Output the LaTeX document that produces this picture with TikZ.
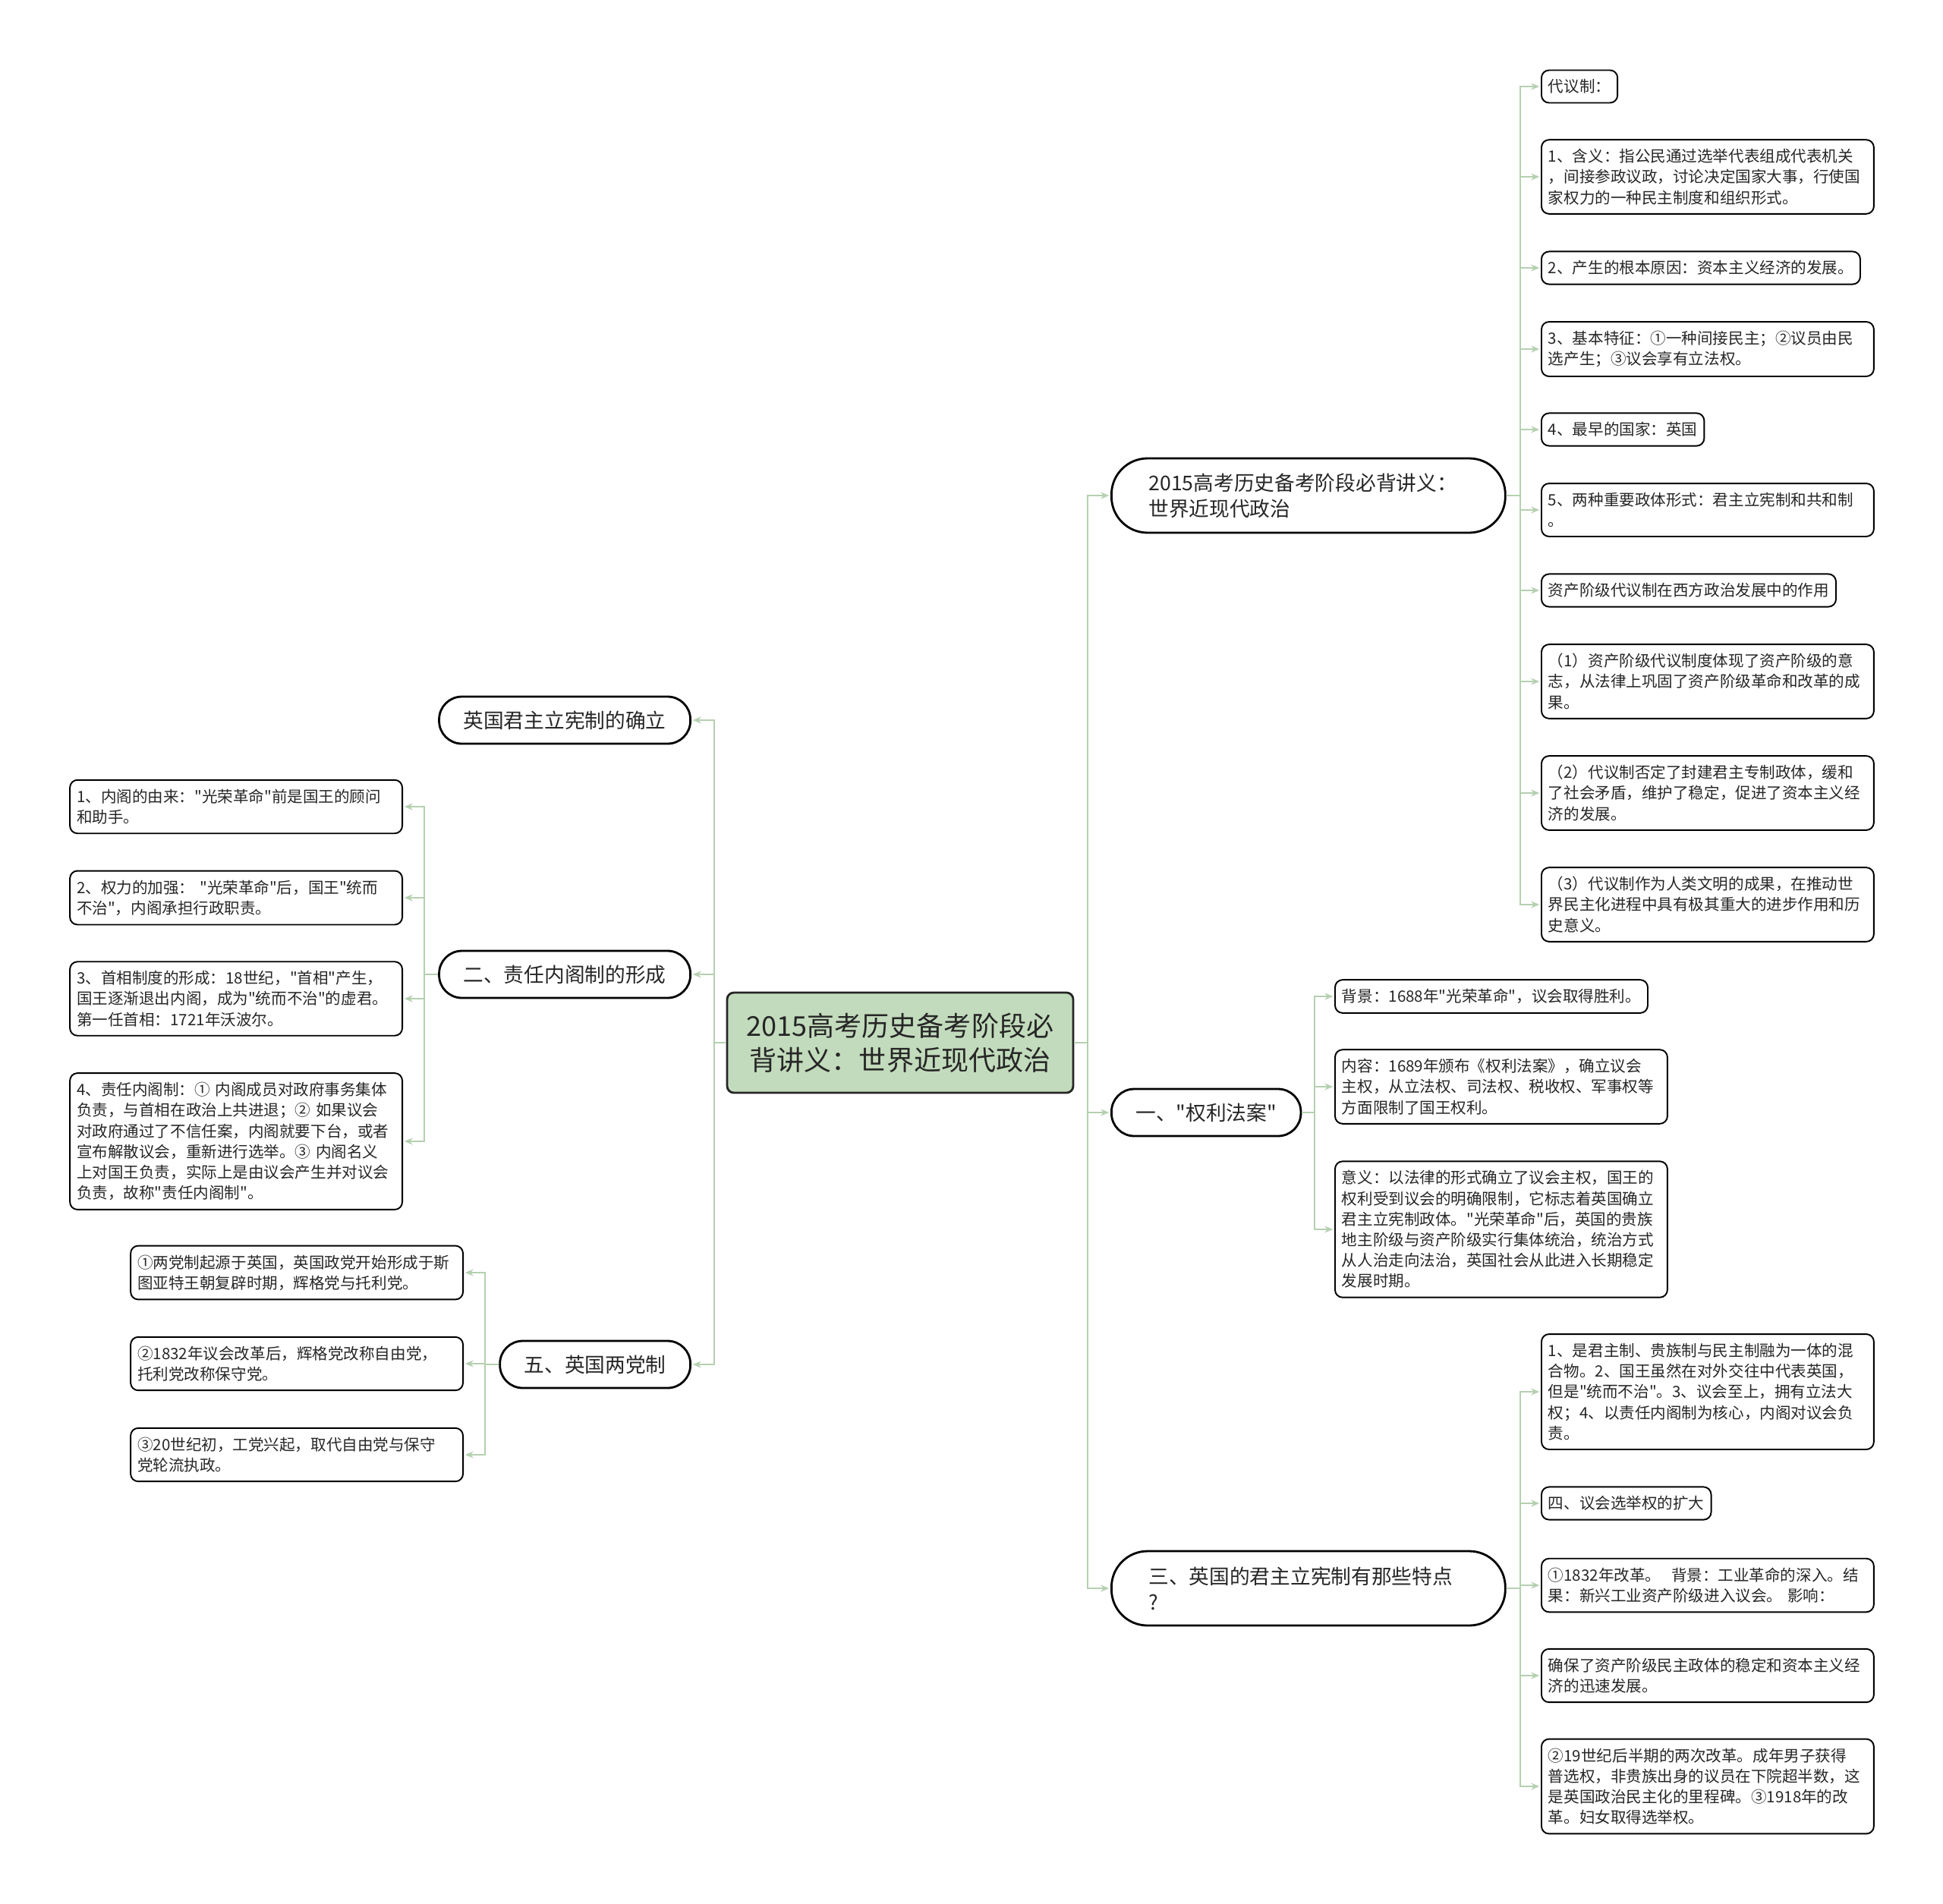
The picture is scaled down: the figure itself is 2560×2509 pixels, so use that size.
\documentclass[tikz,border=0pt]{standalone}
\usepackage{fontspec}
\newfontfamily\cjk{Noto Sans CJK SC}
\usetikzlibrary{arrows.meta,positioning}
\definecolor{lnk}{RGB}{181,208,176}
\definecolor{rootfill}{RGB}{194,219,188}

\begin{document}
\begin{tikzpicture}[x=0.02cm,y=-0.02cm,
  link/.style={draw=lnk,line width=1.1pt,-{Stealth[length=2.2mm,width=1.8mm]},shorten >=1pt},
  root/.style={draw=black!85,line width=1.6pt,rounded corners=5pt,fill=rootfill,align=center,text=black!85,
    font=\cjk\fontsize{20.5}{25.6}\selectfont,minimum width=9.12cm,minimum height=2.64cm},
  topic/.style={draw=black,line width=1.6pt,rounded corners=0.6cm,text=black!85,
    font=\cjk\fontsize{15.2}{19.4}\selectfont,minimum height=1.24cm,inner xsep=0.64cm},
  topic2/.style={topic,rounded corners=0.95cm,minimum height=1.96cm,inner xsep=0.98cm,text width=8.42cm,align=left},
  leaf/.style={draw=black,line width=1.1pt,rounded corners=0.2cm,text=black!85,
    font=\cjk\fontsize{11.7}{15.5}\selectfont,inner xsep=0.18cm,inner ysep=0.24cm,align=left},
  wleaf/.style={leaf,text width=8.4cm}]
  \useasboundingbox (0,0) rectangle (2560,2509);

  % centre
  \node[root] (root) at (1186,1374) {2015高考历史备考阶段必\\背讲义：世界近现代政治};

  % right topics
  \node[topic2,anchor=west] (A) at (1463,653) {2015高考历史备考阶段必背讲义：\\世界近现代政治};
  \node[topic,anchor=west] (B) at (1463,1466) {一、"权利法案"};
  \node[topic2,anchor=west] (C) at (1463,2093) {三、英国的君主立宪制有那些特点\\?};

  % left topics
  \node[topic,anchor=east] (L1) at (911,949) {英国君主立宪制的确立};
  \node[topic,anchor=east] (L2) at (911,1284) {二、责任内阁制的形成};
  \node[topic,anchor=east] (L3) at (911,1798) {五、英国两党制};

  % leaves of A
  \node[leaf,anchor=west] (a1) at (2030,114) {代议制：};
  \node[wleaf,anchor=west] (a2) at (2030,233) {1、含义：指公民通过选举代表组成代表机关\\，间接参政议政，讨论决定国家大事，行使国\\家权力的一种民主制度和组织形式。};
  \node[leaf,anchor=west] (a3) at (2030,353) {2、产生的根本原因：资本主义经济的发展。};
  \node[wleaf,anchor=west] (a4) at (2030,460) {3、基本特征：①一种间接民主；②议员由民\\选产生；③议会享有立法权。};
  \node[leaf,anchor=west] (a5) at (2030,566) {4、最早的国家：英国};
  \node[wleaf,anchor=west] (a6) at (2030,672) {5、两种重要政体形式：君主立宪制和共和制\\。};
  \node[leaf,anchor=west] (a7) at (2030,778) {资产阶级代议制在西方政治发展中的作用};
  \node[wleaf,anchor=west] (a8) at (2030,898) {（1）资产阶级代议制度体现了资产阶级的意\\志，从法律上巩固了资产阶级革命和改革的成\\果。};
  \node[wleaf,anchor=west] (a9) at (2030,1045) {（2）代议制否定了封建君主专制政体，缓和\\了社会矛盾，维护了稳定，促进了资本主义经\\济的发展。};
  \node[wleaf,anchor=west] (a10) at (2030,1192) {（3）代议制作为人类文明的成果，在推动世\\界民主化进程中具有极其重大的进步作用和历\\史意义。};

  % leaves of B
  \node[leaf,anchor=west] (b1) at (1758,1313) {背景：1688年"光荣革命"，议会取得胜利。};
  \node[wleaf,anchor=west] (b2) at (1758,1432) {内容：1689年颁布《权利法案》，确立议会\\主权，从立法权、司法权、税收权、军事权等\\方面限制了国王权利。};
  \node[wleaf,anchor=west] (b3) at (1758,1620) {意义：以法律的形式确立了议会主权，国王的\\权利受到议会的明确限制，它标志着英国确立\\君主立宪制政体。"光荣革命"后，英国的贵族\\地主阶级与资产阶级实行集体统治，统治方式\\从人治走向法治，英国社会从此进入长期稳定\\发展时期。};

  % leaves of C
  \node[wleaf,anchor=west] (c1) at (2030,1834) {1、是君主制、贵族制与民主制融为一体的混\\合物。2、国王虽然在对外交往中代表英国，\\但是"统而不治"。3、议会至上，拥有立法大\\权；4、以责任内阁制为核心，内阁对议会负\\责。};
  \node[leaf,anchor=west] (c2) at (2030,1981) {四、议会选举权的扩大};
  \node[wleaf,anchor=west] (c3) at (2030,2089) {①1832年改革。\ \ 背景：工业革命的深入。结\\果：新兴工业资产阶级进入议会。 影响：};
  \node[wleaf,anchor=west] (c4) at (2030,2208) {确保了资产阶级民主政体的稳定和资本主义经\\济的迅速发展。};
  \node[wleaf,anchor=west] (c5) at (2030,2354) {②19世纪后半期的两次改革。成年男子获得\\普选权，非贵族出身的议员在下院超半数，这\\是英国政治民主化的里程碑。③1918年的改\\革。妇女取得选举权。};

  % leaves of L2
  \node[wleaf,anchor=east] (d1) at (531,1063) {1、内阁的由来："光荣革命"前是国王的顾问\\和助手。};
  \node[wleaf,anchor=east] (d2) at (531,1183) {2、权力的加强： "光荣革命"后，国王"统而\\不治"，内阁承担行政职责。};
  \node[wleaf,anchor=east] (d3) at (531,1316) {3、首相制度的形成：18世纪，"首相"产生，\\国王逐渐退出内阁，成为"统而不治"的虚君。\\第一任首相：1721年沃波尔。};
  \node[wleaf,anchor=east] (d4) at (531,1504) {4、责任内阁制：① 内阁成员对政府事务集体\\负责，与首相在政治上共进退；② 如果议会\\对政府通过了不信任案，内阁就要下台，或者\\宣布解散议会，重新进行选举。③ 内阁名义\\上对国王负责，实际上是由议会产生并对议会\\负责，故称"责任内阁制"。};

  % leaves of L3
  \node[wleaf,anchor=east] (e1) at (611,1677) {①两党制起源于英国，英国政党开始形成于斯\\图亚特王朝复辟时期，辉格党与托利党。};
  \node[wleaf,anchor=east] (e2) at (611,1797) {②1832年议会改革后，辉格党改称自由党，\\托利党改称保守党。};
  \node[wleaf,anchor=east] (e3) at (611,1917) {③20世纪初，工党兴起，取代自由党与保守\\党轮流执政。};

  % connectors
  \foreach \n in {A,B,C} \draw[link] (root.east) -- ++(18,0) |- (\n.west);
  \foreach \n in {L1,L2,L3} \draw[link] (root.west) -- ++(-16,0) |- (\n.east);
  \foreach \n in {a1,a2,a3,a4,a5,a6,a7,a8,a9,a10} \draw[link] (A.east) -- ++(18,0) |- (\n.west);
  \foreach \n in {b1,b2,b3} \draw[link] (B.east) -- ++(17,0) |- (\n.west);
  \foreach \n in {c1,c2,c3,c4,c5} \draw[link] (C.east) -- ++(18,0) |- (\n.west);
  \foreach \n in {d1,d2,d3,d4} \draw[link] (L2.west) -- ++(-18,0) |- (\n.east);
  \foreach \n in {e1,e2,e3} \draw[link] (L3.west) -- ++(-18,0) |- (\n.east);
\end{tikzpicture}
\end{document}
